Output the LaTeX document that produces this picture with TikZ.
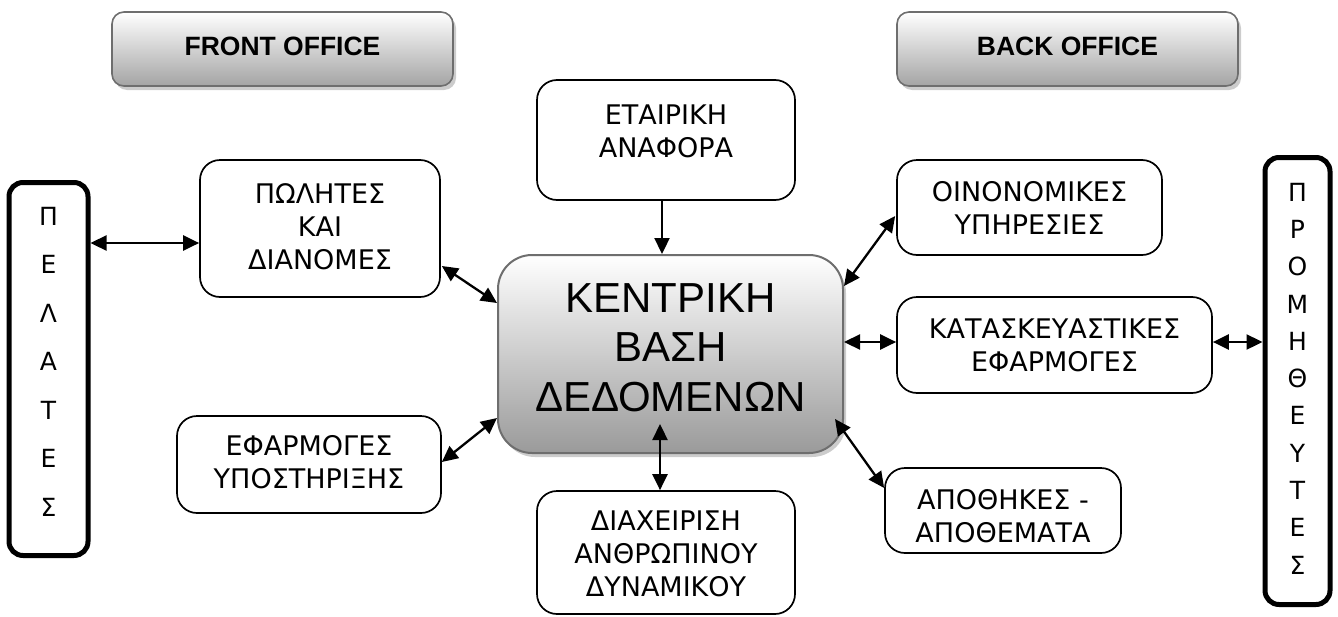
\documentclass[tikz,border=0pt]{standalone}
\usepackage{fontspec}
\newfontfamily\vfont{DejaVu Sans}
\newfontfamily\afont{Liberation Sans}
\usetikzlibrary{arrows.meta,calc,shadows}
\definecolor{edgegray}{HTML}{6E6E6E}
\definecolor{shadegray}{HTML}{9A9A9A}
\definecolor{hdrgray}{HTML}{A4A4A4}
\begin{document}
\begin{tikzpicture}[x=1pt,y=-1pt,
  box/.style={draw=black, line width=1.7pt, rounded corners=20pt, inner sep=0pt, fill=white},
  txt/.style={font=\vfont\fontsize{27}{33}\selectfont, align=center, inner sep=0pt},
  side/.style={draw=black, line width=5pt, rounded corners=14pt, inner sep=0pt},
  hdr/.style={draw=edgegray, line width=1.6pt, rounded corners=12pt, inner sep=0pt,
    top color=white, bottom color=hdrgray,
    drop shadow={shadow xshift=3pt, shadow yshift=-4pt, fill=gray!40, opacity=1}},
  hdrtxt/.style={font=\afont\bfseries\fontsize{26.5}{30}\selectfont, inner sep=0pt},
  central/.style={draw=edgegray, line width=2pt, rounded corners=34pt, inner sep=0pt,
    top color=white, bottom color=shadegray,
    drop shadow={shadow xshift=3pt, shadow yshift=-4pt, fill=gray!40, opacity=1}},
  arr/.style={line width=2.3pt, {Triangle[length=16pt,width=15pt]}-{Triangle[length=16pt,width=15pt]}},
  arrone/.style={line width=2.3pt, -{Triangle[length=16pt,width=15pt]}}
]
\useasboundingbox (0,0) rectangle (1338,616);

% header boxes
\node[hdr, minimum width=341pt, minimum height=74pt] (front) at (282.5,49) {};
\node[hdrtxt] (fronttxt) at (282.5,46) {FRONT OFFICE};
\node[hdr, minimum width=341pt, minimum height=74pt] (back) at (1067.5,49) {};
\node[hdrtxt] (backtxt) at (1067.5,46) {BACK OFFICE};

% side boxes
\node[side, minimum width=79pt, minimum height=373pt] (pel) at (48.5,369) {};
\node[txt, font=\vfont\fontsize{25}{48.5}\selectfont] (peltxt) at (48.5,361.5)
  {Π\\Ε\\Λ\\Α\\Τ\\Ε\\Σ};
\node[side, minimum width=65pt, minimum height=447pt] (prom) at (1297.5,381) {};
\node[txt, font=\vfont\fontsize{25}{37.3}\selectfont] (promtxt) at (1297.5,378.5)
  {Π\\Ρ\\Ο\\Μ\\Η\\Θ\\Ε\\Υ\\Τ\\Ε\\Σ};

% central box
\node[central, minimum width=345pt, minimum height=198pt] (ken) at (670.5,354) {};
\node[txt, font=\afont\fontsize{42}{49.5}\selectfont] (kentxt) at (670.5,347.5)
  {ΚΕΝΤΡΙΚΗ\\ΒΑΣΗ\\ΔΕΔΟΜΕΝΩΝ};

% small boxes
\node[box, minimum width=240pt, minimum height=137pt] (pol) at (320,228.5) {};
\node[txt] (poltxt) at (320,226.5) {ΠΩΛΗΤΕΣ\\ΚΑΙ\\ΔΙΑΝΟΜΕΣ};

\node[box, minimum width=258pt, minimum height=120pt] (eta) at (666,140) {};
\node[txt] (etatxt) at (666,131.5) {ΕΤΑΙΡΙΚΗ\\ΑΝΑΦΟΡΑ};

\node[box, minimum width=265pt, minimum height=95pt] (oik) at (1029.5,207.5) {};
\node[txt] (oiktxt) at (1029.5,207.5) {ΟΙΝΟΝΟΜΙΚΕΣ\\ΥΠΗΡΕΣΙΕΣ};

\node[box, minimum width=315pt, minimum height=96pt] (kat) at (1054.5,345) {};
\node[txt] (kattxt) at (1054.5,345) {ΚΑΤΑΣΚΕΥΑΣΤΙΚΕΣ\\ΕΦΑΡΜΟΓΕΣ};

\node[box, minimum width=236pt, minimum height=85pt] (apo) at (1003,510.5) {};
\node[txt] (apotxt) at (1003,516.5) {ΑΠΟΘΗΚΕΣ -\\ΑΠΟΘΕΜΑΤΑ};

\node[box, minimum width=264pt, minimum height=97pt] (efa) at (309,464.5) {};
\node[txt] (efatxt) at (309,462.5) {ΕΦΑΡΜΟΓΕΣ\\ΥΠΟΣΤΗΡΙΞΗΣ};

\node[box, minimum width=258pt, minimum height=123pt] (dia) at (666,552.5) {};
\node[txt] (diatxt) at (666,553.5) {ΔΙΑΧΕΙΡΙΣΗ\\ΑΝΘΡΩΠΙΝΟΥ\\ΔΥΝΑΜΙΚΟΥ};

% connectors
\draw[arr] ($(pel.east)+(0,-126)$) -- ($(pol.west)+(0,14.5)$);
\draw[arr] ($(pol.east)+(1,37.5)$) -- ($(ken.west)+(0,-51)$);
\draw[arrone] ($(eta.south)+(-4,0)$) -- ($(ken.north)+(-8.5,0)$);
\draw[arr] ($(efa.east)+(0,-2.5)$) -- ($(ken.west)+(0,64)$);
\draw[arr] ($(dia.north)+(-6,0)$) -- ($(ken.south)+(-10.5,-30)$);
\draw[arr] ($(oik.west)+(-1,8.5)$) -- ($(ken.east)+(0,-68)$);
\draw[arr] ($(kat.west)+(0,-3)$) -- ($(ken.east)+(0,-12)$);
\draw[arr] ($(apo.west)+(0,-22.5)$) -- ($(ken.east)+(-9,65)$);
\draw[arr] ($(kat.east)+(0,-3)$) -- ($(prom.west)+(0,-39)$);
\end{tikzpicture}
\end{document}
